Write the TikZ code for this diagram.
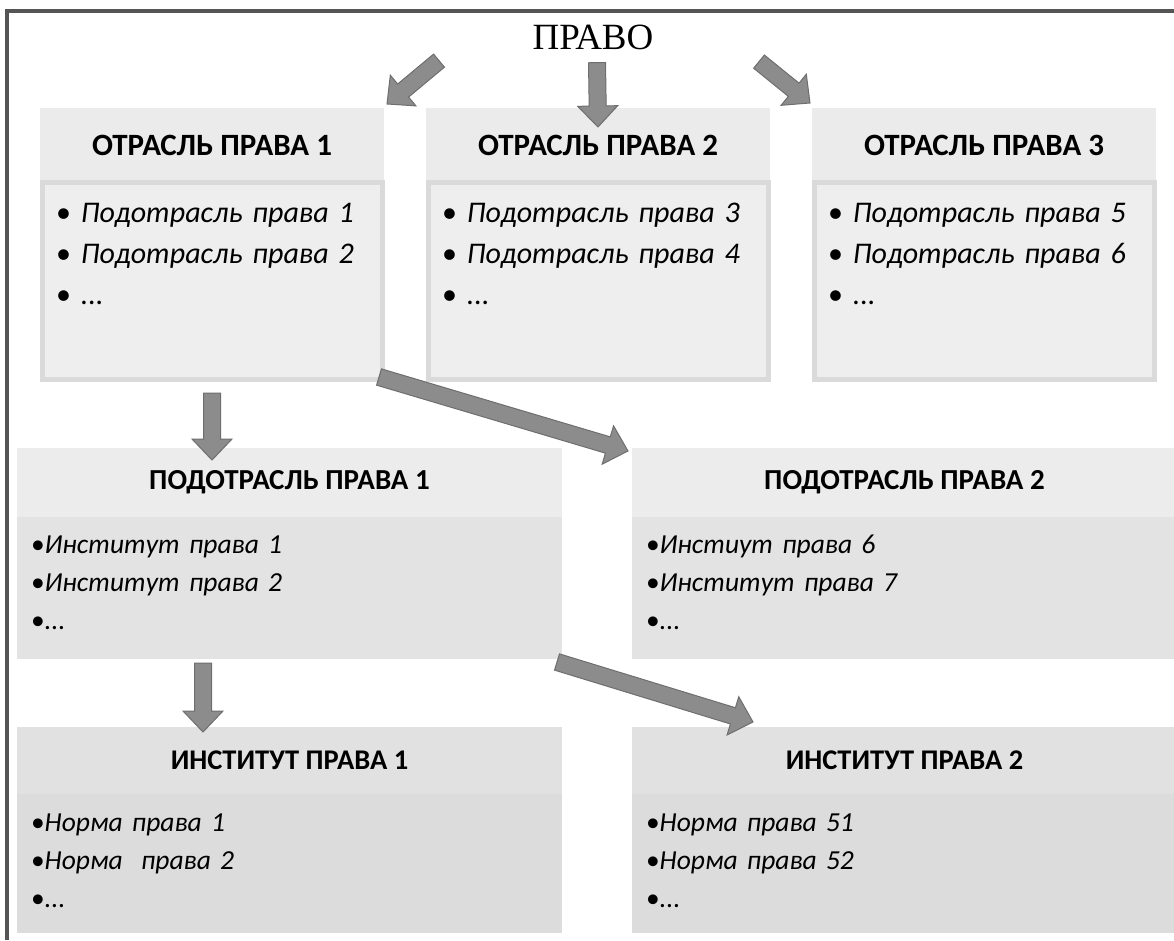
\documentclass[tikz,border=0pt]{standalone}
\usepackage{fontspec}
\setmainfont{Carlito}
\newfontfamily\serifru{Liberation Serif}
\usetikzlibrary{positioning, calc}

\definecolor{framegray}{HTML}{555555}
\definecolor{arrowfill}{HTML}{8C8C8C}
\definecolor{arrowline}{HTML}{6E6E6E}
\definecolor{headA}{HTML}{EBEBEB}
\definecolor{bodyA}{HTML}{EEEEEE}
\definecolor{edgeA}{HTML}{DADADA}
\definecolor{headB}{HTML}{ECECEC}
\definecolor{bodyB}{HTML}{E3E3E3}
\definecolor{headC}{HTML}{E1E1E1}
\definecolor{bodyC}{HTML}{DCDCDC}

% толстая серая стрелка между двумя точками
\newcommand{\blockarrow}[2]{%
  \path[blockarr] let \p1=(#1), \p2=(#2), \n2={veclen(\x2-\x1,\y2-\y1)} in
    [shift={(\p1)}, rotate={atan2(\y2-\y1,\x2-\x1)}]
    (0pt,-8.5pt) -- ({\n2-21pt},-8.5pt) -- ({\n2-21pt},-20pt) -- ({\n2+0pt},0pt)
    -- ({\n2-21pt},20pt) -- ({\n2-21pt},8.5pt) -- (0pt,8.5pt) -- cycle;}

\begin{document}
\begin{tikzpicture}[x=1pt, y=-1pt, node distance=0pt]

        % Стили блоков
        \tikzstyle{blockarr} = [fill=arrowfill, draw=arrowline, line width=1pt, line join=miter]
        \tikzstyle{otrhead} = [rectangle, fill=headA, minimum width=344pt, minimum height=74pt, inner sep=0pt, outer sep=0pt, anchor=north west, font=\fontsize{31}{34}\selectfont\bfseries]
        \tikzstyle{otrbody} = [rectangle, fill=bodyA, draw=edgeA, line width=5pt, outer sep=0pt, text width=312pt, inner xsep=14pt, inner ysep=20pt, text height=20pt, text depth=137pt, align=left, font=\fontsize{30}{41}\selectfont]
        \tikzstyle{subhead} = [rectangle, fill=headB, minimum width=545pt, minimum height=69pt, inner sep=0pt, outer sep=0pt, anchor=north west, font=\fontsize{29}{32}\selectfont\bfseries]
        \tikzstyle{subbody} = [rectangle, fill=bodyB, outer sep=0pt, text width=517pt, inner xsep=14pt, inner ysep=17pt, text height=19pt, text depth=89pt, align=left, font=\fontsize{27.5}{38}\selectfont]
        \tikzstyle{insthead} = [subhead, fill=headC, minimum height=67pt, font=\fontsize{28.5}{32}\selectfont\bfseries]
        \tikzstyle{instbody} = [subbody, fill=bodyC, inner ysep=18pt, text depth=84pt]

        \useasboundingbox (0,0) rectangle (1174,940);

        % Рамка
        \draw[framegray, line width=4pt] (7,940) -- (7,11) -- (1174,11);

        \node[font=\serifru\fontsize{37}{40}\selectfont, inner sep=0pt] (pravo) at (593,37) {ПРАВО};

        % Отрасли
        \node[otrhead] (otr1h) at (40,108) {ОТРАСЛЬ ПРАВА 1};
        \node[otrbody, below=of otr1h] (otr1b) {\textbullet\ \textit{Подотрасль права 1}\\ \textbullet\ \textit{Подотрасль права 2}\\ \textbullet\ \textit{...}};
        \node[otrhead] (otr2h) at (426,108) {ОТРАСЛЬ ПРАВА 2};
        \node[otrbody, below=of otr2h] (otr2b) {\textbullet\ \textit{Подотрасль права 3}\\ \textbullet\ \textit{Подотрасль права 4}\\ \textbullet\ \textit{...}};
        \node[otrhead] (otr3h) at (812,108) {ОТРАСЛЬ ПРАВА 3};
        \node[otrbody, below=of otr3h] (otr3b) {\textbullet\ \textit{Подотрасль права 5}\\ \textbullet\ \textit{Подотрасль права 6}\\ \textbullet\ \textit{...}};

        % Подотрасли
        \node[subhead] (sub1h) at (17,448) {ПОДОТРАСЛЬ ПРАВА 1};
        \node[subbody, below=of sub1h] (sub1b) {\textbullet\textit{Институт права 1}\\ \textbullet\textit{Институт права 2}\\ \textbullet\textit{...}};
        \node[subhead] (sub2h) at (632,448) {ПОДОТРАСЛЬ ПРАВА 2};
        \node[subbody, below=of sub2h] (sub2b) {\textbullet\textit{Инстиут права 6}\\ \textbullet\textit{Институт права 7}\\ \textbullet\textit{...}};

        % Институты
        \node[insthead] (inst1h) at (17,727) {ИНСТИТУТ ПРАВА 1};
        \node[instbody, below=of inst1h] (inst1b) {\textbullet\textit{Норма права 1}\\ \textbullet\textit{Норма~ права 2}\\ \textbullet\textit{...}};
        \node[insthead] (inst2h) at (632,727) {ИНСТИТУТ ПРАВА 2};
        \node[instbody, below=of inst2h] (inst2b) {\textbullet\textit{Норма права 51}\\ \textbullet\textit{Норма права 52}\\ \textbullet\textit{...}};

        % Стрелки
        \blockarrow{$(pravo.south)+(-154,11)$}{$(otr1h.north east)+(3,-4)$}
        \blockarrow{$(pravo.south)+(4,13)$}{$(otr2h.north)+(0,19)$}
        \blockarrow{$(pravo.south)+(166,12)$}{$(otr3h.north west)+(-2,-5)$}
        \blockarrow{$(otr1b.south)+(0,14)$}{$(otr1b.south)+(0,81)$}
        \blockarrow{$(otr1b.south east)+(-3,-2)$}{$(sub2h.north west)+(-4,3)$}
        \blockarrow{$(sub1b.south west)+(186,4)$}{$(inst1h.north west)+(186,5)$}
        \blockarrow{$(sub1b.south east)+(-5,3)$}{$(inst2h.north west)+(121,-5)$}

\end{tikzpicture}
\end{document}
